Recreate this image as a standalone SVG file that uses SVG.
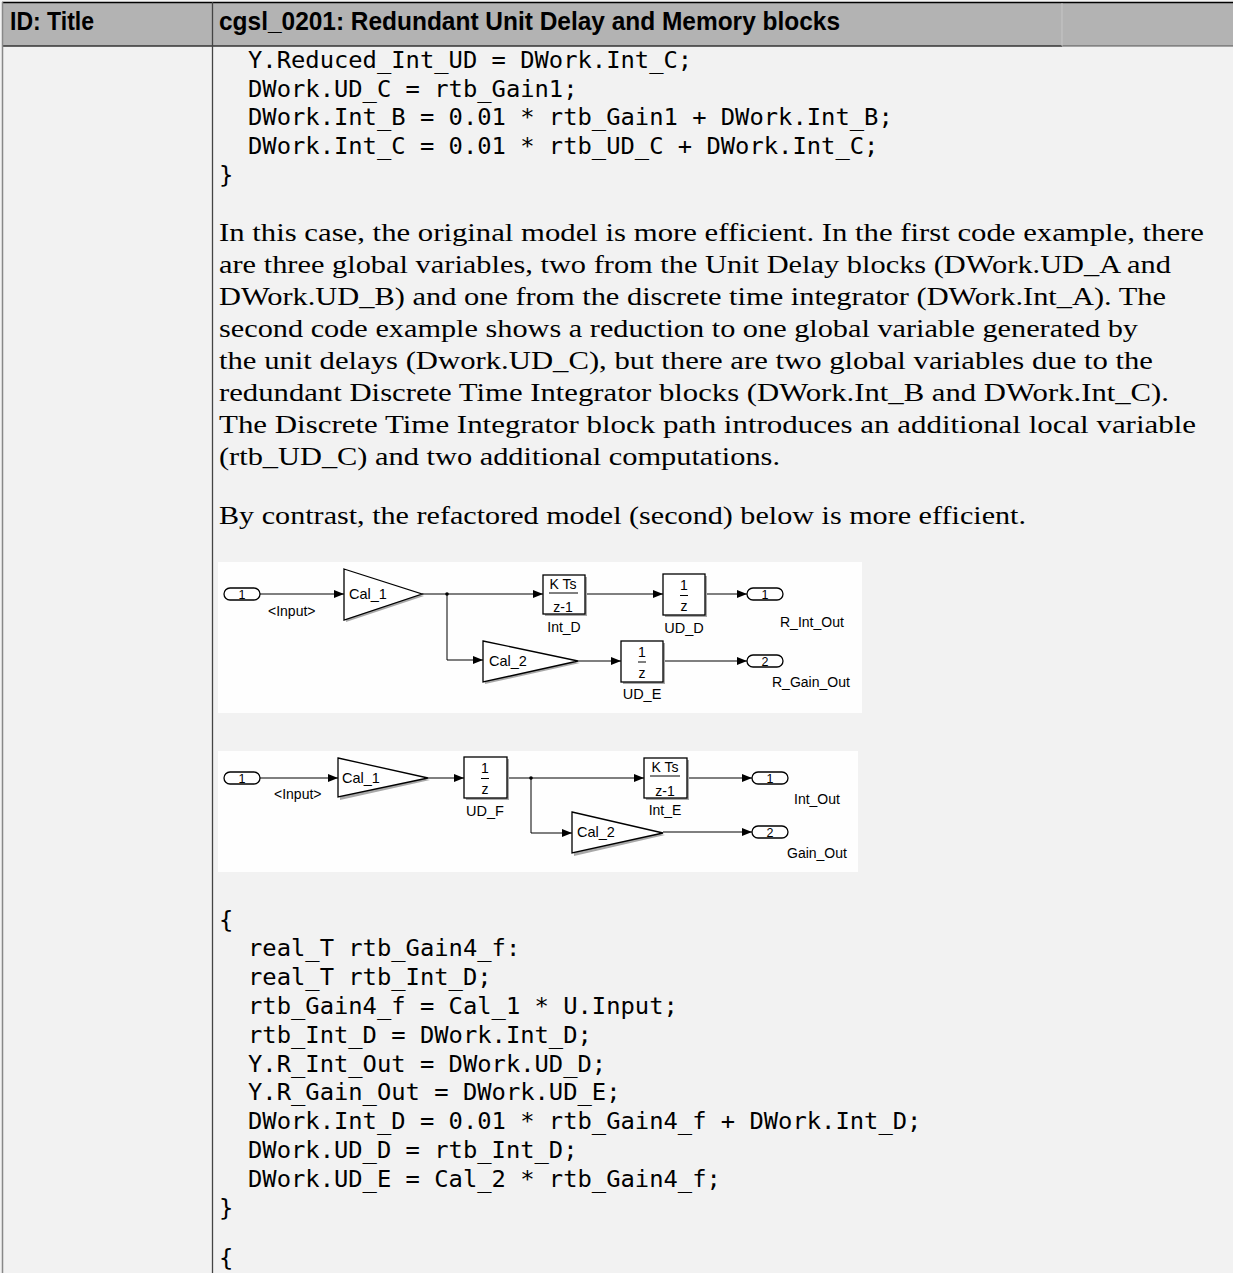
<svg xmlns="http://www.w3.org/2000/svg" width="1233" height="1273" viewBox="0 0 1233 1273">
<defs>
<marker id="ah" viewBox="0 0 10 10" refX="10" refY="5" markerWidth="10" markerHeight="10" markerUnits="userSpaceOnUse" orient="auto">
<path d="M0,1 L10,5 L0,9 z" fill="#000"/>
</marker>
</defs>
<style>
.code{font-family:"DejaVu Sans Mono","Liberation Mono",monospace;font-size:23.8px;fill:#000}
.body{font-family:"Liberation Serif","DejaVu Serif",serif;font-size:25.5px;fill:#000}
.hdr{font-family:"Liberation Sans","DejaVu Sans",sans-serif;font-weight:bold;font-size:25px;fill:#000}
.lbl{font-family:"Liberation Sans",Arial,sans-serif;font-size:14.5px;fill:#000}
.sm{font-family:"Liberation Sans",Arial,sans-serif;font-size:14px;fill:#000}
.num{font-family:"Liberation Sans",Arial,sans-serif;font-size:12.5px;fill:#000}
.blk{fill:#fff;stroke:#000;stroke-width:1.3}
.shd{fill:#a8a8a8}
.wire{fill:none;stroke:#000;stroke-width:1}
.arr{fill:none;stroke:#000;stroke-width:1;marker-end:url(#ah)}
.port{fill:#fff;stroke:#000;stroke-width:1.3}
.panel{fill:#fefefe}
</style>
<rect x="0" y="0" width="1233" height="1273" fill="#f2f2f2"/>
<g id="header">
<rect x="2" y="2" width="1231" height="44" fill="#b3b3b3"/>
<line x1="2" y1="2.5" x2="1233" y2="2.5" stroke="#000" stroke-width="1.5"/>
<line x1="2" y1="46" x2="1062" y2="46" stroke="#333" stroke-width="1.5"/>
<line x1="1062" y1="46" x2="1233" y2="46" stroke="#555" stroke-width="1.2"/>
<line x1="1062" y1="3" x2="1062" y2="46" stroke="#ccc" stroke-width="0.8"/>
<text class="hdr" x="10" y="30" textLength="84" lengthAdjust="spacingAndGlyphs">ID: Title</text>
<text class="hdr" x="219" y="30" textLength="621" lengthAdjust="spacingAndGlyphs">cgsl_0201: Redundant Unit Delay and Memory blocks</text>
</g>
<line x1="2.5" y1="2" x2="2.5" y2="1273" stroke="#888" stroke-width="1.5"/>
<line x1="212.5" y1="2" x2="212.5" y2="1273" stroke="#444" stroke-width="1.3"/>
<g id="code1">
<text class="code" x="248" y="68">Y.Reduced_Int_UD = DWork.Int_C;</text>
<text class="code" x="248" y="97">DWork.UD_C = rtb_Gain1;</text>
<text class="code" x="248" y="125">DWork.Int_B = 0.01 * rtb_Gain1 + DWork.Int_B;</text>
<text class="code" x="248" y="154">DWork.Int_C = 0.01 * rtb_UD_C + DWork.Int_C;</text>
<text class="code" x="219" y="183">}</text>
</g>
<g id="para">
<text class="body" x="219" y="241" textLength="985" lengthAdjust="spacingAndGlyphs">In this case, the original model is more efficient. In the first code example, there</text>
<text class="body" x="219" y="273" textLength="952" lengthAdjust="spacingAndGlyphs">are three global variables, two from the Unit Delay blocks (DWork.UD_A and</text>
<text class="body" x="219" y="305" textLength="947" lengthAdjust="spacingAndGlyphs">DWork.UD_B) and one from the discrete time integrator (DWork.Int_A). The</text>
<text class="body" x="219" y="337" textLength="919" lengthAdjust="spacingAndGlyphs">second code example shows a reduction to one global variable generated by</text>
<text class="body" x="219" y="369" textLength="934" lengthAdjust="spacingAndGlyphs">the unit delays (Dwork.UD_C), but there are two global variables due to the</text>
<text class="body" x="219" y="401" textLength="950" lengthAdjust="spacingAndGlyphs">redundant Discrete Time Integrator blocks (DWork.Int_B and DWork.Int_C).</text>
<text class="body" x="219" y="433" textLength="977" lengthAdjust="spacingAndGlyphs">The Discrete Time Integrator block path introduces an additional local variable</text>
<text class="body" x="219" y="465" textLength="561" lengthAdjust="spacingAndGlyphs">(rtb_UD_C) and two additional computations.</text>
<text class="body" x="219" y="524" textLength="807" lengthAdjust="spacingAndGlyphs">By contrast, the refactored model (second) below is more efficient.</text>
</g>
<rect class="panel" x="218" y="562" width="644" height="151"/>
<g id="d1-connectors">
<line class="arr" x1="260" y1="594" x2="344" y2="594"/>
<line class="arr" x1="422" y1="594" x2="543" y2="594"/>
<polyline class="arr" points="447,594 447,660 483,660"/>
<circle cx="447" cy="594" r="1.8" fill="#000"/>
<line class="arr" x1="585" y1="594" x2="663" y2="594"/>
<line class="arr" x1="705" y1="594" x2="747" y2="594"/>
<line class="arr" x1="578" y1="661" x2="621" y2="661"/>
<line class="arr" x1="663" y1="661" x2="747" y2="661"/>
</g>
<g id="d1-in1">
<rect class="port" x="224" y="588" width="36" height="12" rx="6"/>
<text class="num" x="242" y="598.5" text-anchor="middle">1</text>
<text class="sm" x="268" y="616" fill="#1a1a40">&lt;Input&gt;</text>
</g>
<g id="d1-cal1">
<polygon class="shd" points="346,572 424,596 346,622"/>
<polygon class="blk" points="344,569 422,594 344,620"/>
<text class="lbl" x="349" y="599">Cal_1</text>
</g>
<g id="d1-intd">
<rect class="shd" x="545" y="577" width="42" height="39"/>
<rect class="blk" x="543" y="575" width="42" height="39"/>
<text class="sm" x="563" y="589" text-anchor="middle">K Ts</text>
<line x1="549" y1="593" x2="578" y2="593" stroke="#000" stroke-width="1"/>
<text class="sm" x="563" y="612" text-anchor="middle">z-1</text>
<text class="sm" x="564" y="632" text-anchor="middle">Int_D</text>
</g>
<g id="d1-udd">
<rect class="shd" x="665" y="576" width="42" height="41"/>
<rect class="blk" x="663" y="574" width="42" height="41"/>
<text class="sm" x="684" y="590" text-anchor="middle">1</text>
<line x1="680" y1="595.5" x2="688" y2="595.5" stroke="#000" stroke-width="1"/>
<text class="sm" x="684" y="611" text-anchor="middle">z</text>
<text class="lbl" x="684" y="633" text-anchor="middle">UD_D</text>
</g>
<g id="d1-out1">
<rect class="port" x="747" y="588" width="36" height="12" rx="6"/>
<text class="num" x="765" y="598.5" text-anchor="middle">1</text>
<text class="sm" x="780" y="627">R_Int_Out</text>
</g>
<g id="d1-cal2">
<polygon class="shd" points="485,644 580,663 485,684"/>
<polygon class="blk" points="483,641 578,661 483,682"/>
<text class="lbl" x="489" y="666">Cal_2</text>
</g>
<g id="d1-ude">
<rect class="shd" x="623" y="643" width="42" height="41"/>
<rect class="blk" x="621" y="641" width="42" height="41"/>
<text class="sm" x="642" y="657" text-anchor="middle">1</text>
<line x1="638" y1="662" x2="646" y2="662" stroke="#000" stroke-width="1"/>
<text class="sm" x="642" y="678" text-anchor="middle">z</text>
<text class="lbl" x="642" y="699" text-anchor="middle">UD_E</text>
</g>
<g id="d1-out2">
<rect class="port" x="747" y="655" width="36" height="12" rx="6"/>
<text class="num" x="765" y="665.5" text-anchor="middle">2</text>
<text class="sm" x="772" y="687">R_Gain_Out</text>
</g>
<rect class="panel" x="218" y="751" width="640" height="121"/>
<g id="d2-connectors">
<line class="arr" x1="260" y1="778" x2="338" y2="778"/>
<line class="arr" x1="428" y1="778" x2="464" y2="778"/>
<line class="arr" x1="507" y1="778" x2="644" y2="778"/>
<polyline class="arr" points="531,778 531,833 572,833"/>
<circle cx="531" cy="778" r="1.8" fill="#000"/>
<line class="arr" x1="687" y1="778" x2="752" y2="778"/>
<line class="arr" x1="663" y1="832" x2="752" y2="832"/>
</g>
<g id="d2-in1">
<rect class="port" x="224" y="772" width="36" height="12" rx="6"/>
<text class="num" x="242" y="782.5" text-anchor="middle">1</text>
<text class="sm" x="274" y="799" fill="#1a1a40">&lt;Input&gt;</text>
</g>
<g id="d2-cal1">
<polygon class="shd" points="340,761 430,780 340,800"/>
<polygon class="blk" points="338,758 428,778 338,797"/>
<text class="lbl" x="342" y="783">Cal_1</text>
</g>
<g id="d2-udf">
<rect class="shd" x="466" y="759" width="43" height="41"/>
<rect class="blk" x="464" y="757" width="43" height="41"/>
<text class="sm" x="485" y="773" text-anchor="middle">1</text>
<line x1="481" y1="778.5" x2="489" y2="778.5" stroke="#000" stroke-width="1"/>
<text class="sm" x="485" y="794" text-anchor="middle">z</text>
<text class="lbl" x="485" y="816" text-anchor="middle">UD_F</text>
</g>
<g id="d2-inte">
<rect class="shd" x="646" y="760" width="43" height="40"/>
<rect class="blk" x="644" y="758" width="43" height="40"/>
<text class="sm" x="665" y="772" text-anchor="middle">K Ts</text>
<line x1="650" y1="776" x2="680" y2="776" stroke="#000" stroke-width="1"/>
<text class="sm" x="665" y="796" text-anchor="middle">z-1</text>
<text class="sm" x="665" y="815" text-anchor="middle">Int_E</text>
</g>
<g id="d2-out1">
<rect class="port" x="752" y="772" width="36" height="12" rx="6"/>
<text class="num" x="770" y="782.5" text-anchor="middle">1</text>
<text class="sm" x="794" y="804">Int_Out</text>
</g>
<g id="d2-cal2">
<polygon class="shd" points="574,815 665,835 574,856"/>
<polygon class="blk" points="572,812 663,833 572,853"/>
<text class="lbl" x="577" y="837">Cal_2</text>
</g>
<g id="d2-out2">
<rect class="port" x="752" y="826" width="36" height="12" rx="6"/>
<text class="num" x="770" y="836.5" text-anchor="middle">2</text>
<text class="sm" x="787" y="858">Gain_Out</text>
</g>
<g id="code2">
<text class="code" x="219" y="928">{</text>
<text class="code" x="248" y="956">real_T rtb_Gain4_f:</text>
<text class="code" x="248" y="985">real_T rtb_Int_D;</text>
<text class="code" x="248" y="1014">rtb_Gain4_f = Cal_1 * U.Input;</text>
<text class="code" x="248" y="1043">rtb_Int_D = DWork.Int_D;</text>
<text class="code" x="248" y="1072">Y.R_Int_Out = DWork.UD_D;</text>
<text class="code" x="248" y="1100">Y.R_Gain_Out = DWork.UD_E;</text>
<text class="code" x="248" y="1129">DWork.Int_D = 0.01 * rtb_Gain4_f + DWork.Int_D;</text>
<text class="code" x="248" y="1158">DWork.UD_D = rtb_Int_D;</text>
<text class="code" x="248" y="1187">DWork.UD_E = Cal_2 * rtb_Gain4_f;</text>
<text class="code" x="219" y="1216">}</text>
<text class="code" x="219" y="1266">{</text>
</g>
</svg>
